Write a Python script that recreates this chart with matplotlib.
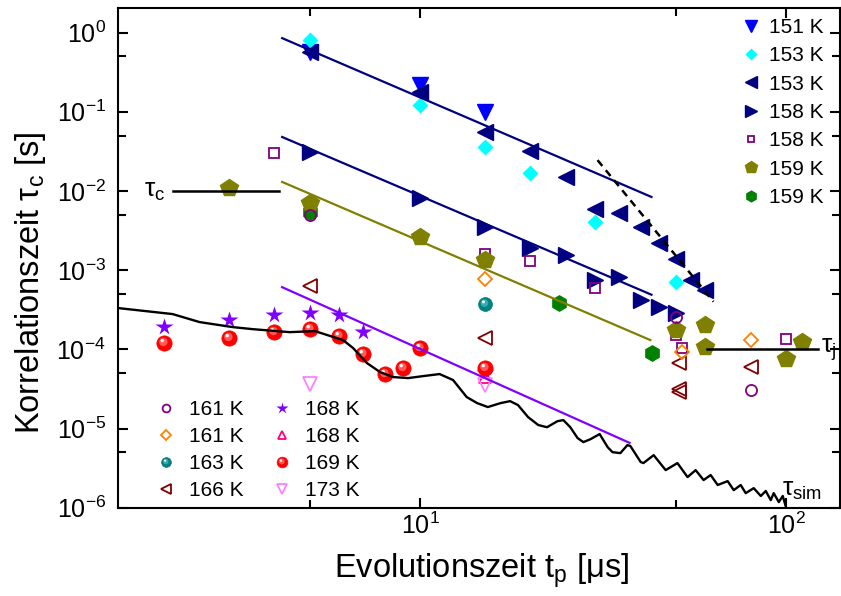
import numpy as np
import matplotlib
matplotlib.use("Agg")
import matplotlib.pyplot as plt
from matplotlib.path import Path
from matplotlib.ticker import FixedLocator, LogFormatterSciNotation, NullFormatter
from matplotlib.legend_handler import HandlerTuple

plt.rcParams['font.family'] = ['Liberation Sans', 'DejaVu Sans']
plt.rcParams['mathtext.fontset'] = 'custom'
plt.rcParams['mathtext.rm'] = 'Liberation Sans'
plt.rcParams['mathtext.it'] = 'Liberation Sans:italic'
plt.rcParams['axes.unicode_minus'] = False

# correlation times tau_c [s] vs evolution time t_p [us]
t151 = [5, 10, 15]
tau151 = [0.56, 0.22, 0.1]
t153a = [5, 10, 15, 20, 30, 50]
tau153a = [0.8, 0.12, 0.036, 0.017, 0.004, 0.0007]
t153b = [5, 10, 15, 20, 25, 30, 35, 40, 45, 50, 55, 60]
tau153b = [0.57, 0.18, 0.056, 0.032, 0.015, 0.0059, 0.0052, 0.0035, 0.0022, 0.0014, 0.00075, 0.00056]
t158a = [5, 10, 15, 20, 25, 30, 35, 40, 45, 50]
tau158a = [0.031, 0.0081, 0.0035, 0.0019, 0.00155, 0.00075, 0.00081, 0.00042, 0.00034, 0.00029]
t158b = [4, 15, 20, 30, 50, 52, 100]
tau158b = [0.03, 0.0016, 0.0013, 0.00059, 0.00015, 0.000104, 0.000135]
t159a = [3, 5, 10, 15, 50, 60, 60, 100, 110]
tau159a = [0.0108, 0.007, 0.0026, 0.00134, 0.000175, 0.000203, 0.000107, 0.000075, 0.000124]
t159b = [5, 24, 43]
tau159b = [0.0055, 0.00039, 0.000089]
t161a = [5, 50, 80]
tau161a = [0.005, 0.00026, 0.000031]
t161b = [15, 52, 80]
tau161b = [0.00078, 0.000093, 0.000131]
t163 = [15]
tau163 = [0.00037]
t166 = [5, 15, 51, 51, 51, 80]
tau166 = [0.00063, 0.000138, 0.000067, 0.000032, 0.000029, 0.00006]
t168a = [2, 3, 4, 5, 6, 7, 15]
tau168a = [0.00019, 0.000234, 0.00027, 0.00029, 0.00027, 0.000166, 0.00005]
t168b = [15]
tau168b = [0.000045]
t169 = [2, 3, 4, 5, 6, 7, 8, 9, 10, 15]
tau169 = [0.00012, 0.000138, 0.000166, 0.00018, 0.000147, 0.0000875, 0.000049, 0.000058, 0.000104, 0.000058]
t173 = [5, 15]
tau173 = [0.000037, 0.000035]

# power law fits (end points)
fit153_t, fit153_tau = [4.2, 42.8], [0.85, 0.0084]
fit158_t, fit158_tau = [4.2, 42.8], [0.048, 0.00049]
fit159_t, fit159_tau = [4.2, 42.5], [0.013, 0.000131]
fit168_t, fit168_tau = [4.2, 37.3], [0.00061, 0.0000066]
steep_t, steep_tau = [30.5, 63.2], [0.0245, 0.0004]
tauc_t, tauc_val = [2.12, 4.11], 0.01
tauj_t, tauj_val = [60.5, 122], 1e-4

# simulated tau
sim_t = [1.5, 2.11, 2.5, 3.08, 3.49, 4.06, 4.41, 5.16, 6.16, 6.56, 7.16, 7.77, 8.44, 9.27,
         10.2, 11.3, 12.3, 13.4, 14.3, 15.3, 16.6, 17.6, 18.5, 19.7, 21.0, 22.2, 23.7, 24.6,
         25.7, 26.9, 27.9, 29.2, 30.9, 32.5, 33.5, 35.2, 36.8, 37.5, 40.0, 40.7, 43.4, 46.8,
         50.4, 53.7, 56.5, 59.4, 62.1, 64.9, 69.1, 71.8, 75.0, 77.4, 81.4, 85.1, 87.8, 90.6,
         92.3, 95.3, 97.7, 99.5]
sim_tau = [3.32e-4, 2.79e-4, 2.21e-4, 1.91e-4, 1.80e-4, 1.70e-4, 1.65e-4, 1.70e-4, 1.31e-4,
           1.04e-4, 6.71e-5, 5.17e-5, 4.47e-5, 4.34e-5, 4.60e-5, 4.88e-5, 4.10e-5, 2.50e-5,
           2.10e-5, 1.87e-5, 2.10e-5, 2.22e-5, 1.98e-5, 1.40e-5, 1.11e-5, 1.04e-5, 1.24e-5,
           1.28e-5, 1.04e-5, 7.59e-6, 6.75e-6, 7.36e-6, 8.53e-6, 5.83e-6, 5.04e-6, 4.90e-6,
           6.19e-6, 6.01e-6, 3.78e-6, 3.67e-6, 4.62e-6, 2.99e-6, 3.67e-6, 2.44e-6, 2.99e-6,
           2.24e-6, 2.59e-6, 1.94e-6, 2.17e-6, 1.67e-6, 1.94e-6, 1.53e-6, 1.77e-6, 1.41e-6,
           1.63e-6, 1.25e-6, 1.53e-6, 1.18e-6, 1.41e-6, 1.05e-6]

x_major = [10, 100]
x_minor = [5, 50]
y_major = [1e-6, 1e-5, 1e-4, 1e-3, 1e-2, 1e-1, 1e0]
y_minor = [5e-6, 5e-5, 5e-4, 5e-3, 5e-2, 5e-1]


def spot(cx, cy, r):
    # the extra moveto at (1,1) keeps the scaling of a unit circle marker
    return Path.make_compound_path(Path([(1, 1)], [Path.MOVETO]),
                                   Path.circle((cx, cy), r))


glow = spot(-0.15, 0.2, 0.55)
shine = spot(-0.3, 0.38, 0.22)


def ball(ax, x, y, color, light, ms, **kw):
    a, = ax.plot(x, y, 'o', ms=ms, mfc=color, mec=color, mew=0.5, **kw)
    b, = ax.plot(x, y, ls='none', marker=glow, ms=ms, mfc=light, mec='none', alpha=0.7, **kw)
    c, = ax.plot(x, y, ls='none', marker=shine, ms=ms, mfc='white', mec='none', **kw)
    return (a, b, c)


fig = plt.figure(figsize=(8.41, 5.96), dpi=100)
ax = fig.add_axes([0.1407, 0.148, 0.8581, 0.838])
ax.set_xscale('log')
ax.set_yscale('log')
ax.set_xlim(1.5, 140)
ax.set_ylim(1e-6, 2.02)

h151, = ax.plot(t151, tau151, 'v', ms=12, color='#0000FF', zorder=3)
h153b, = ax.plot(t153b, tau153b, '<', ms=12, color='#000080', zorder=4)
h153a, = ax.plot(t153a, tau153a, 'D', ms=8.5, color='#00FFFF', mec='none', zorder=3.5)
h158a, = ax.plot(t158a, tau158a, '>', ms=12, color='#000080', zorder=3)
h158b, = ax.plot(t158b, tau158b, 's', ms=7, mfc='none', mec='#800080', mew=1.3, zorder=3)
h159b, = ax.plot(t159b, tau159b, 'h', ms=11, color='#008000', zorder=3.1)
h159a, = ax.plot(t159a, tau159a, 'p', ms=13, color='#808000', zorder=3.2)
h161a, = ax.plot(t161a, tau161a, 'o', ms=8, mfc='none', mec='#800080', mew=1.3, zorder=3.3)
h161b, = ax.plot(t161b, tau161b, 'D', ms=7.5, mfc='none', mec='#FF8000', mew=1.3, zorder=3.4)
h163 = ball(ax, t163, tau163, '#008080', '#4fc0c0', 10, zorder=3)
h166, = ax.plot(t166, tau166, '<', ms=10, mfc='none', mec='#800000', mew=1.3, zorder=3)
h168a, = ax.plot(t168a, tau168a, '*', ms=13, color='#8000FF', mec='none', zorder=3)
h168b, = ax.plot(t168b, tau168b, '^', ms=9, mfc='none', mec='#FF0080', mew=1.3, zorder=3)
h169 = ball(ax, t169, tau169, '#FF0000', '#ff8080', 11, zorder=3.2)
h173, = ax.plot(t173, tau173, 'v', ms=10, mfc='none', mec='#FF80FF', mew=1.3, zorder=3)

# fits and simulation on top of the symbols
ax.plot(fit153_t, fit153_tau, color='#000080', lw=1.6, zorder=5)
ax.plot(fit158_t, fit158_tau, color='#000080', lw=1.6, zorder=5)
ax.plot(fit159_t, fit159_tau, color='#808000', lw=1.6, zorder=5)
ax.plot(fit168_t, fit168_tau, color='#8000FF', lw=1.6, zorder=5)
ax.plot(steep_t, steep_tau, color='black', lw=1.8, ls=(0, (3, 2.2)), zorder=5)
ax.plot(sim_t, sim_tau, color='black', lw=1.7, zorder=5)
ax.plot(tauc_t, [tauc_val, tauc_val], color='black', lw=1.8, zorder=5)
ax.plot(tauj_t, [tauj_val, tauj_val], color='black', lw=1.8, zorder=5)

ax.text(2.02, tauc_val, r'$\mathrm{τ}_\mathrm{c}$', fontsize=19, ha='right', va='center')
ax.text(124, tauj_val, r'$\mathrm{τ}_\mathrm{j}$', fontsize=19, ha='left', va='center')
ax.text(97, 1.7e-6, r'$\mathrm{τ}_\mathrm{sim}$', fontsize=19, ha='left', va='center')

ax.set_xlabel(r'Evolutionszeit $\mathrm{t}_\mathrm{p}$ [μs]', fontsize=23.5)
ax.set_ylabel(r'Korrelationszeit $\mathrm{τ}_\mathrm{c}$ [s]', fontsize=23.5)
ax.xaxis.set_label_coords(0.504, -0.088)
ax.yaxis.set_label_coords(-0.098, 0.45)

ax.xaxis.set_major_locator(FixedLocator(x_major))
ax.xaxis.set_minor_locator(FixedLocator(x_minor))
ax.yaxis.set_major_locator(FixedLocator(y_major))
ax.yaxis.set_minor_locator(FixedLocator(y_minor))
ax.xaxis.set_major_formatter(LogFormatterSciNotation())
ax.yaxis.set_major_formatter(LogFormatterSciNotation())
ax.xaxis.set_minor_formatter(NullFormatter())
ax.yaxis.set_minor_formatter(NullFormatter())
ax.tick_params(which='both', direction='in', top=True, right=True, width=1.5, labelsize=18)
ax.tick_params(which='major', length=7)
ax.tick_params(axis='y', which='major', pad=9)
ax.tick_params(which='minor', length=5.5)
for s in ax.spines.values():
    s.set_linewidth(1.5)

leg1 = ax.legend([h151, h153a, h153b, h158a, h158b, h159a, h159b],
                 ['151 K', '153 K', '153 K', '158 K', '158 K', '159 K', '159 K'],
                 loc='upper left', bbox_to_anchor=(0.862, 0.981), frameon=False,
                 fontsize=15, markerscale=0.7, handlelength=1.0, handletextpad=0.35,
                 labelspacing=0.45, borderaxespad=0, borderpad=0)
ax.add_artist(leg1)
ax.legend([h161a, h161b, h163, h166, h168a, h168b, h169, h173],
          ['161 K', '161 K', '163 K', '166 K', '168 K', '168 K', '169 K', '173 K'],
          ncol=2, loc='upper left', bbox_to_anchor=(0.052, 0.215), frameon=False,
          fontsize=15, markerscale=0.7, handlelength=1.0, handletextpad=0.6,
          labelspacing=0.38, columnspacing=1.35, borderaxespad=0, borderpad=0,
          handler_map={tuple: HandlerTuple(ndivide=1)})

fig.savefig('out.png', dpi=100)
